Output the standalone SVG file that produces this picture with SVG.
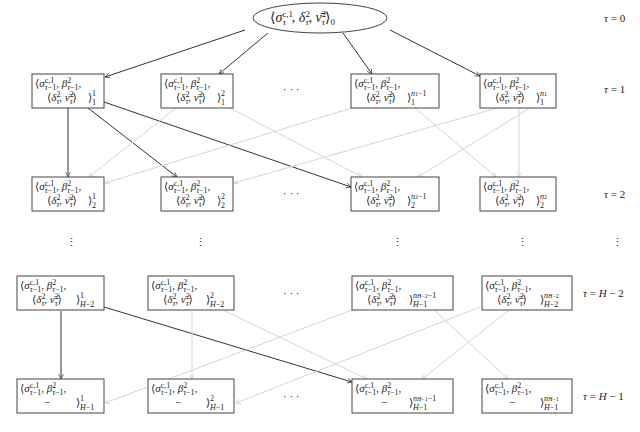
<svg xmlns="http://www.w3.org/2000/svg" width="640" height="432" viewBox="0 0 640 432">
<style>
text{font-family:"Liberation Serif","DejaVu Serif",serif;font-size:11px;fill:#222}
.i{font-style:italic}
.s{font-size:8px}
.ss{font-size:6px}
.box{fill:#fff;stroke:#444;stroke-width:1}
.dk{stroke:#333;stroke-width:1;fill:none;marker-end:url(#a)}
.lt{stroke:#d4d4d4;stroke-width:1;fill:none;marker-end:url(#b)}
.t{font-size:11px}
</style>
<defs>
<marker id="a" viewBox="0 0 10 10" refX="9" refY="5" markerWidth="6" markerHeight="6" orient="auto"><path d="M1,1 L9,5 L1,9" fill="none" stroke="#333" stroke-width="1.2"/></marker>
<marker id="b" viewBox="0 0 10 10" refX="9" refY="5" markerWidth="6" markerHeight="6" orient="auto"><path d="M1,1 L9,5 L1,9" fill="none" stroke="#ccc" stroke-width="1.2"/></marker>
<g id="l1"><text>⟨<tspan class="i">σ</tspan><tspan class="s" dy="-4">c,1</tspan><tspan class="s i" dx="-9.5" dy="7">τ</tspan><tspan class="s">−1</tspan><tspan dy="-3">, </tspan><tspan class="i">β</tspan><tspan class="s" dy="-4">2</tspan><tspan class="s i" dx="-4" dy="7">τ</tspan><tspan class="s">−1</tspan><tspan dy="-3">,</tspan></text></g>
<g id="l2"><text>⟨<tspan class="i">δ</tspan><tspan class="s" dy="-4">2</tspan><tspan class="s i" dx="-4" dy="7">τ</tspan><tspan dy="-3">, </tspan><tspan class="i">ν̄</tspan><tspan class="s" dy="-4">2</tspan><tspan class="s i" dx="-4" dy="7">τ</tspan><tspan dy="-3">⟩</tspan></text></g>
</defs>
<rect width="640" height="432" fill="#fff"/>

<g id="connectors">
<line class="dk" x1="245" y1="30" x2="105" y2="77"/>
<line class="dk" x1="268" y1="33" x2="219" y2="74"/>
<line class="dk" x1="343" y1="33" x2="372" y2="74"/>
<line class="dk" x1="390" y1="30" x2="480" y2="76"/>
<line class="dk" x1="68" y1="108" x2="68" y2="177"/>
<line class="dk" x1="88" y1="108" x2="177" y2="177"/>
<line class="dk" x1="104" y1="102" x2="351" y2="187"/>
<line class="lt" x1="176" y1="108" x2="89" y2="177"/>
<line class="lt" x1="230" y1="108" x2="362" y2="177"/>
<line class="lt" x1="355" y1="107" x2="105" y2="183"/>
<line class="lt" x1="497" y1="108" x2="234" y2="183"/>
<line class="lt" x1="530" y1="108" x2="418" y2="177"/>
<line class="lt" x1="519" y1="108" x2="519" y2="177"/>
<line class="lt" x1="415" y1="108" x2="496" y2="177"/>
<line class="dk" x1="61" y1="311" x2="61" y2="379"/>
<line class="dk" x1="104" y1="307" x2="352" y2="382"/>
<line class="lt" x1="192" y1="311" x2="192" y2="379"/>
<line class="lt" x1="225" y1="311" x2="367" y2="379"/>
<line class="lt" x1="352" y1="310" x2="105" y2="403"/>
<line class="lt" x1="435" y1="311" x2="508" y2="379"/>
<line class="lt" x1="480" y1="307" x2="236" y2="403"/>
<line class="lt" x1="508" y1="311" x2="422" y2="379"/>
</g>

<g id="root"><ellipse cx="320" cy="18" rx="67" ry="15" fill="#fff" stroke="#444"/>
<text x="270" y="22" style="font-size:14px">⟨<tspan class="i">σ</tspan><tspan style="font-size:9px" dy="-5">c,1</tspan><tspan style="font-size:9px" class="i" dx="-10.5" dy="8">τ</tspan><tspan dx="6" dy="-3">, </tspan><tspan class="i">δ</tspan><tspan style="font-size:9px" dy="-5">2</tspan><tspan style="font-size:9px" class="i" dx="-4.5" dy="8">τ</tspan><tspan dy="-3">, </tspan><tspan class="i">ν̄</tspan><tspan style="font-size:9px" dy="-5">2</tspan><tspan style="font-size:9px" class="i" dx="-4.5" dy="8">τ</tspan><tspan dy="-3">⟩</tspan><tspan style="font-size:9px" dy="3">0</tspan></text></g>

<!-- row 1 -->
<g id="n11"><rect class="box" x="32" y="74" width="72" height="34"/><use href="#l1" x="35" y="87"/><use href="#l2" x="47" y="101"/><text x="88" y="101">⟩</text><text class="s" x="92" y="96">1</text><text class="s" x="92" y="105">1</text></g>
<g id="n12"><rect class="box" x="161" y="74" width="72" height="34"/><use href="#l1" x="164" y="87"/><use href="#l2" x="176" y="101"/><text x="217" y="101">⟩</text><text class="s" x="221" y="96">2</text><text class="s" x="221" y="105">1</text></g>
<g id="n13"><rect class="box" x="351" y="74" width="88" height="34"/><use href="#l1" x="354" y="87"/><use href="#l2" x="366" y="101"/><text x="407" y="101">⟩</text><text class="s" x="411" y="96"><tspan class="i">n</tspan><tspan class="ss">1</tspan>−1</text><text class="s" x="411" y="105">1</text></g>
<g id="n14"><rect class="box" x="480" y="74" width="76" height="34"/><use href="#l1" x="483" y="87"/><use href="#l2" x="495" y="101"/><text x="536" y="101">⟩</text><text class="s" x="540" y="96"><tspan class="i">n</tspan><tspan class="ss">1</tspan></text><text class="s" x="540" y="105">1</text></g>

<!-- row 2 -->
<g id="n21"><rect class="box" x="32" y="177" width="72" height="34"/><use href="#l1" x="35" y="190"/><use href="#l2" x="47" y="204"/><text x="88" y="204">⟩</text><text class="s" x="92" y="199">1</text><text class="s" x="92" y="208">2</text></g>
<g id="n22"><rect class="box" x="161" y="177" width="72" height="34"/><use href="#l1" x="164" y="190"/><use href="#l2" x="176" y="204"/><text x="217" y="204">⟩</text><text class="s" x="221" y="199">2</text><text class="s" x="221" y="208">2</text></g>
<g id="n23"><rect class="box" x="351" y="177" width="88" height="34"/><use href="#l1" x="354" y="190"/><use href="#l2" x="366" y="204"/><text x="407" y="204">⟩</text><text class="s" x="411" y="199"><tspan class="i">n</tspan><tspan class="ss">2</tspan>−1</text><text class="s" x="411" y="208">2</text></g>
<g id="n24"><rect class="box" x="480" y="177" width="76" height="34"/><use href="#l1" x="483" y="190"/><use href="#l2" x="495" y="204"/><text x="536" y="204">⟩</text><text class="s" x="540" y="199"><tspan class="i">n</tspan><tspan class="ss">2</tspan></text><text class="s" x="540" y="208">2</text></g>

<!-- row H-2 -->
<g id="n31"><rect class="box" x="17" y="276" width="87" height="34"/><use href="#l1" x="20" y="289"/><use href="#l2" x="32" y="303"/><text x="76" y="303">⟩</text><text class="s" x="80" y="298">1</text><text class="s" x="80" y="307"><tspan class="i">H</tspan>−2</text></g>
<g id="n32"><rect class="box" x="148" y="276" width="86" height="34"/><use href="#l1" x="151" y="289"/><use href="#l2" x="163" y="303"/><text x="206" y="303">⟩</text><text class="s" x="210" y="298">2</text><text class="s" x="210" y="307"><tspan class="i">H</tspan>−2</text></g>
<g id="n33"><rect class="box" x="352" y="276" width="101" height="34"/><use href="#l1" x="355" y="289"/><use href="#l2" x="367" y="303"/><text x="409" y="303">⟩</text><text class="s" x="413" y="298"><tspan class="i">n</tspan><tspan class="ss"><tspan class="i">H</tspan>−2</tspan>−1</text><text class="s" x="413" y="307"><tspan class="i">H</tspan>−1</text></g>
<g id="n34"><rect class="box" x="482" y="276" width="90" height="34"/><use href="#l1" x="485" y="289"/><use href="#l2" x="497" y="303"/><text x="540" y="303">⟩</text><text class="s" x="544" y="298"><tspan class="i">n</tspan><tspan class="ss"><tspan class="i">H</tspan>−2</tspan></text><text class="s" x="544" y="307"><tspan class="i">H</tspan>−2</text></g>

<!-- row H-1 -->
<g id="n41"><rect class="box" x="17" y="379" width="87" height="34"/><use href="#l1" x="20" y="392"/><text x="44" y="406">−</text><text x="76" y="406">⟩</text><text class="s" x="80" y="401">1</text><text class="s" x="80" y="410"><tspan class="i">H</tspan>−1</text></g>
<g id="n42"><rect class="box" x="148" y="379" width="86" height="34"/><use href="#l1" x="151" y="392"/><text x="175" y="406">−</text><text x="206" y="406">⟩</text><text class="s" x="210" y="401">2</text><text class="s" x="210" y="410"><tspan class="i">H</tspan>−1</text></g>
<g id="n43"><rect class="box" x="352" y="379" width="101" height="34"/><use href="#l1" x="355" y="392"/><text x="381" y="406">−</text><text x="409" y="406">⟩</text><text class="s" x="413" y="401"><tspan class="i">n</tspan><tspan class="ss"><tspan class="i">H</tspan>−1</tspan>−1</text><text class="s" x="413" y="410"><tspan class="i">H</tspan>−1</text></g>
<g id="n44"><rect class="box" x="482" y="379" width="90" height="34"/><use href="#l1" x="485" y="392"/><text x="509" y="406">−</text><text x="540" y="406">⟩</text><text class="s" x="544" y="401"><tspan class="i">n</tspan><tspan class="ss"><tspan class="i">H</tspan>−1</tspan></text><text class="s" x="544" y="410"><tspan class="i">H</tspan>−1</text></g>

<g id="dots">
<text x="283" y="93" class="t">· · ·</text>
<text x="283" y="197" class="t">· · ·</text>
<text x="283" y="297" class="t">· · ·</text>
<text x="283" y="400" class="t">· · ·</text>
<text x="66" y="246" class="t">⋮</text>
<text x="195" y="246" class="t">⋮</text>
<text x="392" y="246" class="t">⋮</text>
<text x="517" y="246" class="t">⋮</text>
<text x="612" y="246" class="t">⋮</text>
</g>

<g id="labels">
<text x="604" y="22" class="t"><tspan class="i">τ</tspan> = 0</text>
<text x="604" y="93" class="t"><tspan class="i">τ</tspan> = 1</text>
<text x="604" y="198" class="t"><tspan class="i">τ</tspan> = 2</text>
<text x="583" y="297" class="t"><tspan class="i">τ</tspan> = <tspan class="i">H</tspan> − 2</text>
<text x="583" y="400" class="t"><tspan class="i">τ</tspan> = <tspan class="i">H</tspan> − 1</text>
</g>
</svg>
